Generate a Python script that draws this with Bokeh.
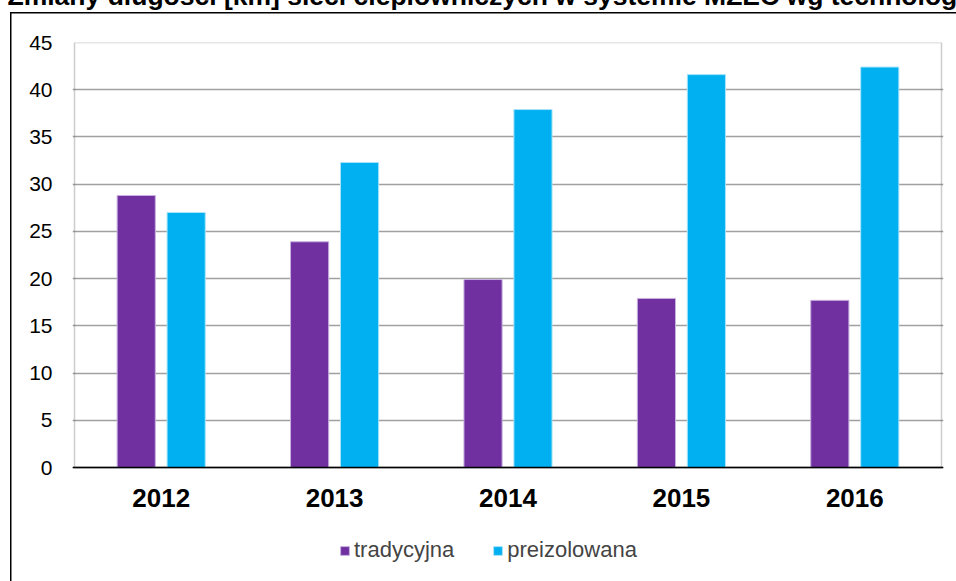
from bokeh.plotting import figure
from bokeh.models import (ColumnDataSource, Range1d, FixedTicker, Legend, LegendItem,
                          FactorRange, BoxAnnotation)
from bokeh.transform import dodge
from bokeh.embed import file_html
from bokeh.resources import INLINE

years = ["2012", "2013", "2014", "2015", "2016"]
tradycyjna = [28.8, 23.9, 19.9, 17.9, 17.7]
preizolowana = [27.0, 32.3, 37.9, 41.6, 42.4]
series_names = ["tradycyjna", "preizolowana"]
y_ticks = [0, 5, 10, 15, 20, 25, 30, 35, 40, 45]
title_text = "Zmiany długości [km] sieci ciepłowniczych w systemie MZEC wg technologii"

FONT = "Liberation Sans"
SHIFT = 54          # canvas starts above the window so only the lower part of the title shows
PX_PER_UNIT = 425 / 45.0
Y_MIN = -114 / PX_PER_UNIT   # room below the zero line (category labels + legend) inside the frame

src = ColumnDataSource(dict(years=years, trad=tradycyjna, prei=preizolowana))

p = figure(x_range=FactorRange(*years, range_padding=0.0115, range_padding_units="absolute"),
           y_range=Range1d(Y_MIN, 45),
           frame_width=871, frame_height=539, output_backend="svg", toolbar_location=None,
           min_border_left=72, min_border_right=13, min_border_top=0, min_border_bottom=0)

p.title.text = title_text
p.title.text_font = FONT
p.title.text_font_style = "bold"
p.title.text_font_size = "26.5px"
p.title.align = "left"
p.title.offset = -65
p.title.standoff = 64
p.title.text_color = "#000000"

# plot-area box (0..45, across all categories)
p.add_layout(BoxAnnotation(left=0, right=len(years), bottom=0, top=45, fill_alpha=0,
                           line_color="#595959", line_width=1.5, level="underlay"))

r1 = p.vbar(x=dodge("years", -0.144, range=p.x_range), top="trad", width=0.22, source=src,
            fill_color="#7030A0", line_color="#C8B0E0", line_width=1)
r2 = p.vbar(x=dodge("years", 0.144, range=p.x_range), top="prei", width=0.22, source=src,
            fill_color="#00B0F0", line_color="#A8E4FA", line_width=1)

p.outline_line_color = None
p.background_fill_color = "white"
p.border_fill_color = None
p.styles = {
    "margin-top": f"-{SHIFT}px",
    "background-color": "white",
    "background-image": "linear-gradient(#000, #000), linear-gradient(#000, #000)",
    "background-size": "1.5px 100%, 100% 1.5px",
    "background-position": f"10px {12 + SHIFT}px, 10px {12 + SHIFT}px",
    "background-repeat": "no-repeat",
}

p.xgrid.grid_line_color = None
p.yaxis.ticker = FixedTicker(ticks=y_ticks)
p.ygrid.ticker = FixedTicker(ticks=y_ticks)
p.ygrid.grid_line_color = "#A0A0A0"
p.ygrid.grid_line_width = 1.5

p.yaxis.axis_line_color = None
p.yaxis.major_tick_line_color = None
p.yaxis.minor_tick_line_color = None
p.yaxis.major_tick_out = 0
p.yaxis.major_tick_in = 0
p.yaxis.major_label_standoff = 20
p.yaxis.major_label_text_font = FONT
p.yaxis.major_label_text_font_size = "21px"
p.yaxis.major_label_text_color = "#000000"

p.xaxis.fixed_location = 0
p.xaxis.axis_line_color = "#000000"
p.xaxis.axis_line_width = 1.5
p.xaxis.major_tick_line_color = None
p.xaxis.major_tick_out = 0
p.xaxis.major_tick_in = 0
p.xaxis.major_label_standoff = 21
p.xaxis.major_label_text_font = FONT
p.xaxis.major_label_text_font_size = "26px"
p.xaxis.major_label_text_font_style = "bold"
p.xaxis.major_label_text_color = "#000000"

legend = Legend(items=[LegendItem(label=series_names[0], renderers=[r1]),
                       LegendItem(label=series_names[1], renderers=[r2])],
                orientation="horizontal", location=(267, 18),
                border_line_color=None, background_fill_alpha=0,
                label_text_font=FONT, label_text_font_size="22px",
                glyph_width=11, glyph_height=11, label_standoff=4, spacing=38,
                padding=0, margin=0)
p.add_layout(legend, "center")

open("out.html", "w").write(file_html(p, INLINE))
